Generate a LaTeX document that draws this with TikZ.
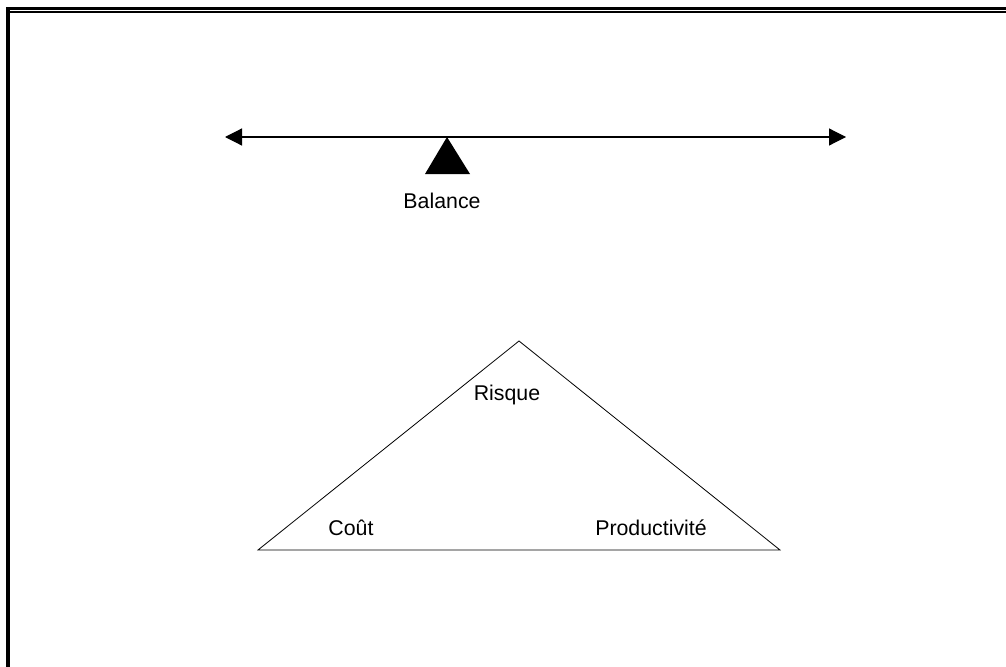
\documentclass[tikz,border=0pt]{standalone}
\usepackage{fontspec}
\setmainfont{Liberation Sans}
\usepackage{tikz}
\usetikzlibrary{arrows.meta}

\tikzset{
	lbl/.style={anchor=base,inner sep=0pt,font=\fontsize{16}{19}\selectfont},
	tip/.style={-{Triangle[length=12.75pt,width=12.75pt]}}
}

\begin{document}
\begin{tikzpicture}[x=0.75pt,y=0.75pt,yscale=-1,xscale=1]
		\useasboundingbox (0,0) rectangle (1006,667);
		
		%Frame: top double rule and left bar
		\fill (6,7) rectangle (1006,10);
		\fill (6,11.2) rectangle (1006,12.6);
		\fill (6,7) rectangle (10,667);
		
		%Straight Lines: lever with arrows at both ends
		\coordinate (levL) at (225,137);
		\coordinate (levR) at (846,137);
		\coordinate (levM) at (536,137);
		\draw [line width=0.9pt,tip] (levM) -- (levL);
		\draw [line width=0.9pt,tip] (levM) -- (levR);
		%Shape: fulcrum
		\fill (447,137) -- (470,174) -- (425,174) -- cycle;
		
		%Shape: Triangle
		\coordinate (top) at (519,341);
		\coordinate (bl) at (258,550);
		\coordinate (br) at (780,550);
		\draw [line width=0.6pt] (top) -- (br) -- (bl) -- cycle;
		
		% Text Node
		\node [lbl] (bal) at (442,208) {Balance};
		% Text Node
		\node [lbl] (risk) at (507,400) {Risque};
		% Text Node
		\node [lbl] (cost) at (351,535) {Coût};
		% Text Node
		\node [lbl] (prod) at (651,535) {Productivité};
		
\end{tikzpicture}
\end{document}
